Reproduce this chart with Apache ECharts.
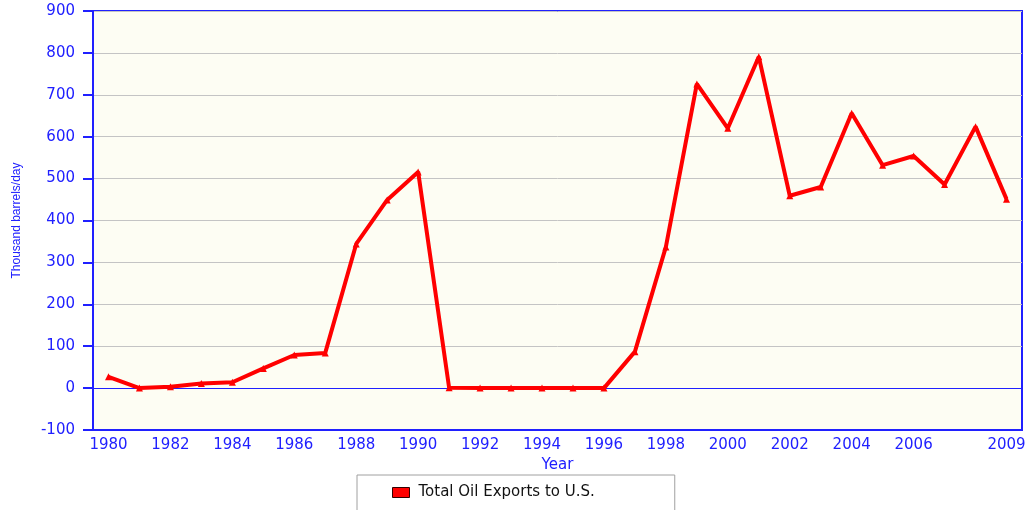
<!DOCTYPE html>
<html>
<head>
<meta charset="utf-8">
<title>Total Oil Exports to U.S.</title>
<script src="https://cdn.jsdelivr.net/npm/echarts@6/dist/echarts.min.js"></script>
<style>
	html, body { margin: 0; padding: 0; background: #fff; }
	#chart { width: 1033px; height: 510px; }
</style>
</head>
<body>
<div id="chart"></div>
<script>
var blue = '#2020ff';
var red = '#ff0000';

var years = ['1980', '1981', '1982', '1983', '1984', '1985', '1986', '1987', '1988', '1989',
	'1990', '1991', '1992', '1993', '1994', '1995', '1996', '1997', '1998', '1999',
	'2000', '2001', '2002', '2003', '2004', '2005', '2006', '2007', '2008', '2009'];

// thousand barrels per day
var exportsToUS = [27, 0, 3, 11, 14, 47, 79, 84, 344, 449,
	516, 1, 0, 0, 0, 0, 0, 87, 337, 726,
	620, 791, 459, 480, 656, 532, 554, 486, 624, 451];

// only these years get a tick and a label
var labelledYears = ['1980', '1982', '1984', '1986', '1988', '1990', '1992', '1994',
	'1996', '1998', '2000', '2002', '2004', '2006', '2009'];

var yTicks = { min: -100, max: 900, step: 100 };

function showYear(index, value) {
	return labelledYears.indexOf(years[index]) !== -1;
}

var chart = echarts.init(document.getElementById('chart'), null, { renderer: 'canvas' });

chart.setOption({
	animation: false,
	backgroundColor: '#ffffff',
	textStyle: { fontFamily: 'DejaVu Sans' },
	grid: {
		left: 93,
		right: 11,
		top: 11,
		bottom: 80,
		show: true,
		backgroundColor: '#fdfdf3',
		borderColor: blue,
		borderWidth: 2
	},
	legend: {
		left: 357,
		top: 475,
		padding: [10, 80, 24, 35],
		borderColor: '#a0a0a0',
		borderWidth: 1,
		itemWidth: 17,
		itemHeight: 10,
		itemGap: 10,
		icon: 'rect',
		textStyle: { color: '#111', fontSize: 15, fontFamily: 'DejaVu Sans', padding: [0, 0, 0, 4] },
		data: [{
			name: 'Total Oil Exports to U.S.',
			itemStyle: { color: red, borderColor: '#300', borderWidth: 1 }
		}]
	},
	xAxis: {
		type: 'category',
		data: years,
		boundaryGap: true,
		name: 'Year',
		nameLocation: 'middle',
		nameGap: 26,
		nameTextStyle: { color: blue, fontSize: 15 },
		axisLine: { onZero: false, lineStyle: { color: blue, width: 2 } },
		axisTick: {
			alignWithLabel: true,
			interval: showYear,
			length: 5,
			lineStyle: { color: blue, width: 2 }
		},
		axisLabel: {
			interval: showYear,
			color: blue,
			fontSize: 15,
			margin: 8
		},
		splitLine: { show: false }
	},
	yAxis: {
		type: 'value',
		min: yTicks.min,
		max: yTicks.max,
		interval: yTicks.step,
		name: 'Thousand barrels/day',
		nameLocation: 'middle',
		nameGap: 70,
		nameRotate: 90,
		nameTextStyle: { color: blue, fontSize: 12, fontFamily: 'Liberation Sans' },
		axisLine: { show: true, lineStyle: { color: blue, width: 2 } },
		axisTick: { show: true, length: 10, lineStyle: { color: blue, width: 2 } },
		axisLabel: { color: blue, fontSize: 15, margin: 18 },
		splitLine: { lineStyle: { color: '#c4c4c4', width: 1 } }
	},
	series: [{
		name: 'Total Oil Exports to U.S.',
		type: 'line',
		data: exportsToUS,
		symbol: 'triangle',
		symbolSize: 7,
		showAllSymbol: true,
		lineStyle: { color: red, width: 4 },
		itemStyle: { color: red },
		z: 5,
		markLine: {
			silent: true,
			symbol: 'none',
			label: { show: false },
			lineStyle: { color: blue, width: 1, type: 'solid' },
			data: [{ yAxis: 0 }],
			z: 3
		}
	}]
});
</script>
</body>
</html>
